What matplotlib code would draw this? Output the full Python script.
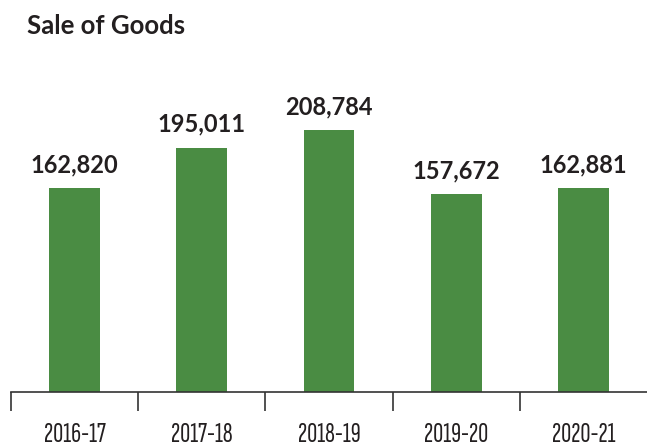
import matplotlib
matplotlib.use("Agg")
import matplotlib.pyplot as plt
from matplotlib.ticker import FixedLocator, NullFormatter

categories = ["2016-17", "2017-18", "2018-19", "2019-20", "2020-21"]
values = [162820, 195011, 208784, 157672, 162881]
title = "Sale of Goods"

green = "#4a8c43"
dark = "#231f20"
head_font = ["Lato", "DejaVu Sans"]
tick_font = ["Sofia Sans Extra Condensed", "DejaVu Sans"]

fig = plt.figure(figsize=(6.47, 4.44), dpi=100)
W, H = 647, 444
ax = fig.add_axes([11 / W, (H - 392) / H, (647 - 11) / W, (392 - 60) / H])

x = list(range(len(categories)))
ax.bar(x, values, width=0.4, color=green, zorder=2)

for xi, v in zip(x, values):
    ax.annotate(f"{v:,}", (xi, v), xytext=(0, 11.5), textcoords="offset points",
                ha="center", va="baseline", fontsize=17, fontweight="bold",
                color=dark, family=head_font)

ax.set_xlim(-0.5, 4.5)
ax.set_ylim(0, 265000)
for s in ["top", "right", "left"]:
    ax.spines[s].set_visible(False)
ax.spines["bottom"].set_color("#333333")
ax.spines["bottom"].set_linewidth(1.2)
ax.set_yticks([])

ax.set_xticks(x)
ax.set_xticklabels(categories)
ax.tick_params(axis="x", which="major", length=0, pad=22, labelsize=20, labelcolor=dark)
for lab in ax.get_xticklabels():
    lab.set_family(tick_font)
    lab.set_fontweight("light")
ax.xaxis.set_minor_locator(FixedLocator([i - 0.5 for i in range(len(categories))]))
ax.xaxis.set_minor_formatter(NullFormatter())
ax.tick_params(axis="x", which="minor", length=14, width=1.2, color="#333333", direction="out")

fig.text(27 / W, 1 - 34.5 / H, title, fontsize=18.5, fontweight="bold", color=dark,
         family=head_font, ha="left", va="baseline")

fig.savefig("out.png", dpi=100)
